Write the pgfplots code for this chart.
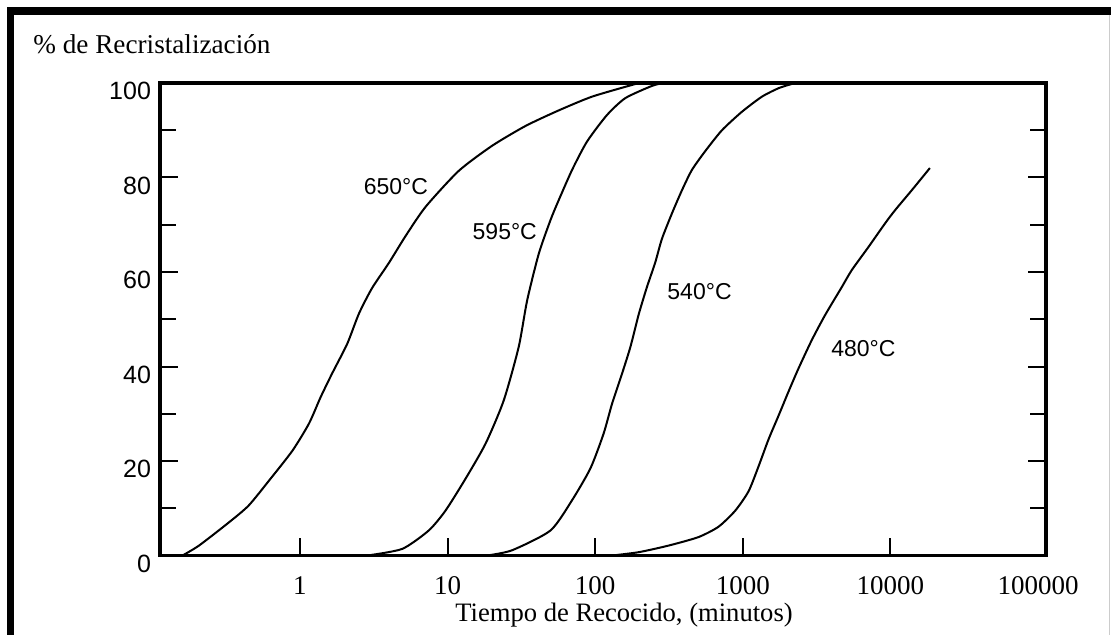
\documentclass[border=0pt]{standalone}
\usepackage{fontspec}
\setmainfont{Liberation Serif}
\newfontfamily\lsans{Liberation Sans}
\usepackage{pgfplots}
\pgfplotsset{compat=1.18}

% time (minutes) vs % recrystallised, one table per temperature
\usepackage{pgfplotstable}
\pgfplotstableread{
t p
0.16 0
0.207 2.1
0.33 7
0.45 10.6
0.63 16.2
0.89 22.2
1.15 27.9
1.38 33.5
1.65 38.5
2.09 44.8
2.51 51.2
3.08 56.6
4.0 61.9
5.19 67.6
7.1 73.8
11.9 81.4
20 86.7
33.7 90.9
56.6 94.2
95 97.1
178 99.6
200 100
}\tabA
\pgfplotstableread{
t p
2.86 0
4.93 1.4
7.46 5.3
9.68 9.5
13.2 16.2
18.1 23.7
24 32.8
30.3 44.1
34.6 54
41.5 63.9
49.8 71
56.6 75.2
69.7 81.6
88 87.6
120 93.2
160 96.8
243 99.4
290 100
}\tabB
\pgfplotstableread{
t p
18.5 0
27.3 1.1
49.8 5.3
69.7 11.7
93 18.5
114 25.8
130 32.1
152 38.5
173 44.1
197 51.0
224 56.8
255 62.0
283 67.0
331 72.4
387 77.3
452 81.6
557 85.6
722 90
985 93.9
1346 97.1
1746 98.9
2150 99.8
2300 100
}\tabC
\pgfplotstableread{
t p
130 0
197 0.7
314 2.1
501 3.9
685 6.1
889 9.5
1094 13.6
1279 18.9
1494 24.6
1746 29.6
2040 34.7
2384 39.6
2933 45.6
3611 50.9
4679 56.8
5470 60.4
7100 65.3
9200 70.3
10760 73.1
13940 77.3
18500 82
}\tabD

\begin{document}
\begin{tikzpicture}
\path[use as bounding box, fill=white] (0,0) rectangle (555.5pt,-317.5pt);
% frame of the original picture (top and left only)
\fill[black] (3.5pt,-3.6pt) rectangle (555.5pt,-7.5pt);
\fill[black] (3.5pt,-3.6pt) rectangle (7.2pt,-317.5pt);
\draw[gray!40, line width=0.5pt] (554.8pt,-7.5pt) -- (554.8pt,-317.5pt);

\begin{axis}[
    at={(80pt,-277.75pt)}, anchor=south west,
    scale only axis, width=443pt, height=236.25pt,
    xmode=log, log basis x=10,
    xmin=0.1127, xmax=113200,
    ymin=0, ymax=100,
    xtick={1,10,100,1000,10000},
    xticklabels={1,10,100,1000,10000},
    extra x ticks={100000},
    extra x tick labels={100000},
    extra x tick style={major tick length=0pt},
    xminorticks=false,
    ytick={0,20,...,100},
    minor ytick={10,30,...,90},
    xtick pos=bottom, ytick pos=both,
    tick align=inside,
    major tick length=9pt, minor tick length=8pt,
    tick style={black, line width=1pt},
    axis line style={line width=1.6pt},
    /pgf/number format/assume math mode=true,
    xticklabel style={font=\fontsize{13.5}{14}\selectfont, yshift=-7pt},
    yticklabel style={font=\lsans\fontsize{12.5}{13}\selectfont, yshift=-4pt, xshift=-1pt},
    clip=false,
]
\addplot[black, line width=1pt, smooth, tension=0.4] table[x=t, y=p] {\tabA};
\addplot[black, line width=1pt, smooth, tension=0.4] table[x=t, y=p] {\tabB};
\addplot[black, line width=1pt, smooth, tension=0.4] table[x=t, y=p] {\tabC};
\addplot[black, line width=1pt, smooth, tension=0.4] table[x=t, y=p] {\tabD};

\begin{scope}[every node/.style={font=\lsans\fontsize{11.5}{12}\selectfont, inner sep=0pt}]
\node at (axis cs:4.47,78) {650°C};
\node at (axis cs:24.4,68.5) {595°C};
\node at (axis cs:509,55.8) {540°C};
\node at (axis cs:6560,43.8) {480°C};
\end{scope}
\end{axis}

\node[anchor=west, inner sep=0pt, font=\fontsize{13.6}{14}\selectfont] at (16.5pt,-22pt) {\% de Recristalización};
\node[inner sep=0pt, font=\fontsize{13.3}{14}\selectfont] at (312pt,-307.5pt) {Tiempo de Recocido, (minutos)};
\end{tikzpicture}
\end{document}
